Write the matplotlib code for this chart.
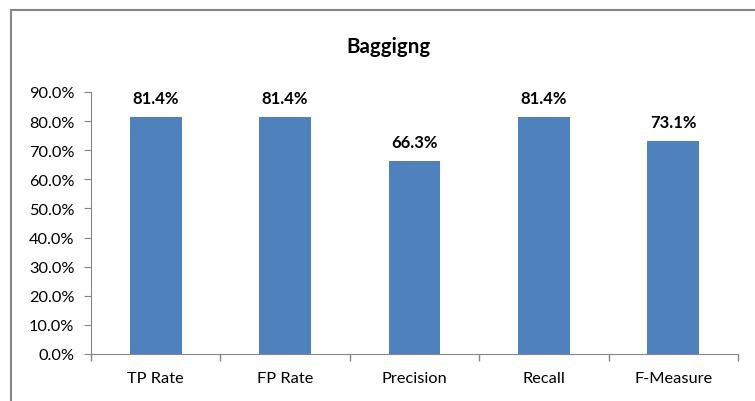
import matplotlib
matplotlib.use("Agg")
import matplotlib.pyplot as plt
from matplotlib.ticker import FuncFormatter, FixedLocator
from matplotlib.lines import Line2D

categories = ["TP Rate", "FP Rate", "Precision", "Recall", "F-Measure"]
values = [0.814, 0.814, 0.663, 0.814, 0.731]
title = "Baggigng"

plt.rcParams['font.family'] = ['Lato', 'DejaVu Sans']

fig = plt.figure(figsize=(7.55, 4.02), dpi=100)
ax = fig.add_axes([91/755, 1-355/402, (738-91)/755, (355-93)/402])

x = list(range(len(categories)))
ax.bar(x, values, width=0.4, color="#4F81BD", zorder=2)
ax.set_xlim(-0.5, len(categories) - 0.5)
ax.set_ylim(0, 0.9)
ax.set_yticks([i/10 for i in range(10)])
ax.yaxis.set_major_formatter(FuncFormatter(lambda v, p: f"{v*100:.1f}%"))
ax.set_xticks(x)
ax.set_xticklabels(categories, fontsize=11.8)
ax.xaxis.set_minor_locator(FixedLocator([i - 0.5 for i in range(len(categories) + 1)]))
ax.tick_params(axis='x', which='major', length=0, pad=12)
ax.tick_params(axis='x', which='minor', length=5, color="#868686", width=1)
ax.tick_params(axis='y', length=5, color="#868686", labelsize=11.8, pad=7)
for s in ["top", "right"]:
    ax.spines[s].set_visible(False)
for s in ["left", "bottom"]:
    ax.spines[s].set_color("#868686")

for xi, v in zip(x, values):
    ax.annotate(f"{v*100:.1f}%", (xi, v), xytext=(0, 8), textcoords="offset points",
                ha="center", va="bottom", fontsize=12, fontweight="bold")

fig.text(389/755, 1-47/402, title, ha="center", va="center", fontsize=14.8, fontweight="bold")

# chart border (left and top visible)
fig.add_artist(Line2D([11/755, 11/755], [0, 1-11/402], transform=fig.transFigure, color="#868686", lw=1.5))
fig.add_artist(Line2D([11/755, 1], [1-11/402, 1-11/402], transform=fig.transFigure, color="#868686", lw=1.5))

fig.savefig("out.png", dpi=100)
